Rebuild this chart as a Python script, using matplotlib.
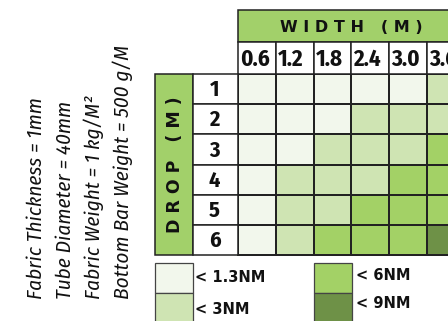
import numpy as np
import matplotlib
matplotlib.use("Agg")
import matplotlib.pyplot as plt
from matplotlib.colors import ListedColormap, BoundaryNorm
from matplotlib.patches import Rectangle

# ---- data ----
widths = ["0.6", "1.2", "1.8", "2.4", "3.0", "3.6"]
drops = ["1", "2", "3", "4", "5", "6"]
# torque class per cell (0: <1.3NM, 1: <3NM, 2: <6NM, 3: <9NM)
levels = np.array([
    [0, 0, 0, 0, 0, 1],
    [0, 0, 0, 1, 1, 1],
    [0, 0, 1, 1, 1, 2],
    [0, 1, 1, 1, 2, 2],
    [0, 1, 1, 2, 2, 2],
    [0, 1, 2, 2, 2, 3],
])
legend_labels = ["< 1.3NM", "< 3NM", "< 6NM", "< 9NM"]
notes = ["Fabric Thickness = 1mm", "Tube Diameter = 40mm",
         "Fabric Weight = 1 kg/M\u00b2", "Bottom Bar Weight = 500 g/M"]

colors = ["#f2f7ec", "#cfe4b3", "#a3d166", "#6e9147"]
header_green = "#a2d06a"
line_c = "#222222"
COND = "Fira Sans Condensed"

fig = plt.figure(figsize=(4.48, 3.21), dpi=100)
ax = fig.add_axes([0, 0, 1, 1])
ax.set_xlim(0, 448)
ax.set_ylim(321, 0)
ax.axis("off")

# layout (pixels)
X0, COLW = 238, 37.8
Y0, ROWH = 74, 30.2
NUMX0 = 193
DROPX0 = 155
HDR_Y0, HDR_Y1 = 10, 42

ncol = len(widths)
nrow = len(drops)
xe = X0 + COLW * np.arange(ncol + 1)
ye = Y0 + ROWH * np.arange(nrow + 1)

cmap = ListedColormap(colors)
norm = BoundaryNorm(np.arange(-0.5, 4.5, 1), cmap.N)
lw = 1.1
ax.pcolormesh(xe, ye, levels, cmap=cmap, norm=norm, edgecolors=line_c, linewidth=lw)

# width header
ax.add_patch(Rectangle((X0, HDR_Y0), xe[-1] - X0, HDR_Y1 - HDR_Y0, facecolor=header_green,
                       edgecolor=line_c, lw=lw))
ax.text((X0 + xe[-1]) / 2, (HDR_Y0 + HDR_Y1) / 2 + 1, "W I D T H   ( M )", ha="center", va="center",
        fontsize=11.5, fontweight="bold", color="#111111", family="DejaVu Sans")
# width labels
for i, w in enumerate(widths):
    ax.add_patch(Rectangle((xe[i], HDR_Y1), COLW, Y0 - HDR_Y1, facecolor="white", edgecolor=line_c, lw=lw))
    ax.text(xe[i] + 2, (HDR_Y1 + Y0) / 2 + 1, w, ha="left", va="center", fontsize=16.5,
            fontweight="bold", family=COND, color="#111111")

# drop column
ax.add_patch(Rectangle((DROPX0, Y0), NUMX0 - DROPX0, ye[-1] - Y0, facecolor=header_green,
                       edgecolor=line_c, lw=lw))
ax.text((DROPX0 + NUMX0) / 2 + 1, (Y0 + ye[-1]) / 2, "D R O P   ( M )", ha="center", va="center",
        rotation=90, fontsize=12.5, fontweight="bold", color="#111111", family="DejaVu Sans")
for j, d in enumerate(drops):
    ax.add_patch(Rectangle((NUMX0, ye[j]), X0 - NUMX0, ROWH, facecolor="white", edgecolor=line_c, lw=lw))
    ax.text((NUMX0 + X0) / 2 - 1, ye[j] + ROWH / 2 + 1, d, ha="center", va="center", fontsize=16,
            fontweight="bold", family=COND, color="#111111")

# legend
leg_x = [155, 155, 314, 314]
leg_y = [263, 293, 263, 293]
text_dy = [14, 17, 13, 10.5]
text_dx = [40, 40, 42, 42]
for k, lab in enumerate(legend_labels):
    ax.add_patch(Rectangle((leg_x[k], leg_y[k]), 38, 30, facecolor=colors[k], edgecolor="#444444", lw=0.9))
    ax.text(leg_x[k] + text_dx[k], leg_y[k] + text_dy[k], lab, ha="left", va="center",
            fontsize=10.5, fontweight="bold", family="DejaVu Sans", color="#111111")

# notes
for k, t in enumerate(notes):
    ax.text(42 + 29 * k, 299, t, rotation=90, ha="left", va="baseline", fontsize=15.2,
            style="italic", family=COND, color="#111111", rotation_mode="anchor")

fig.savefig("out.png", dpi=100)
